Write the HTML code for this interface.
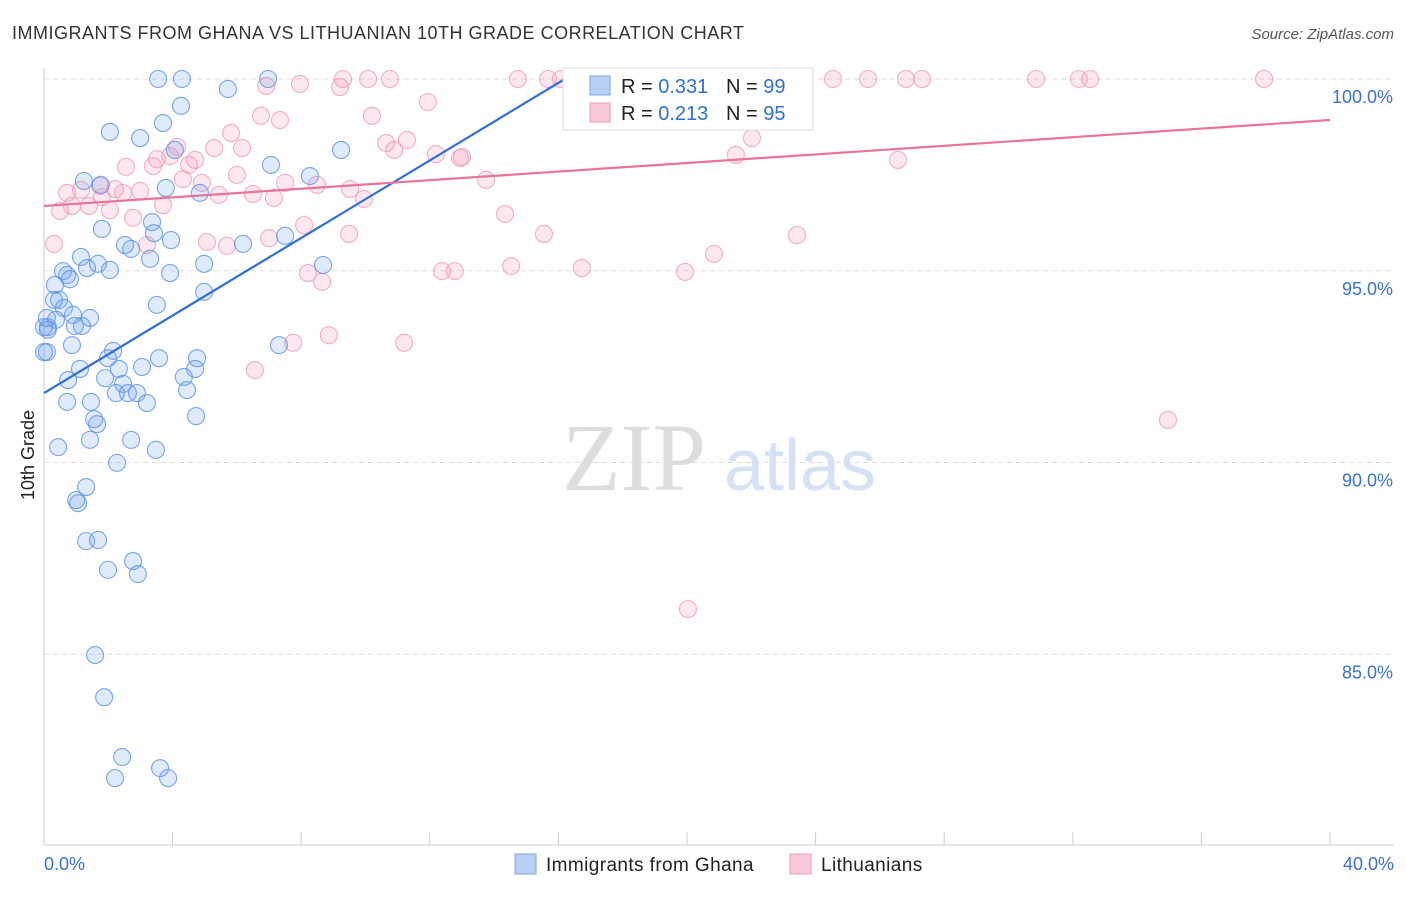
<!DOCTYPE html>
<html><head><meta charset="utf-8"><style>
body{margin:0;background:#fff;font-family:"Liberation Sans",sans-serif;}
svg text{font-family:"Liberation Sans",sans-serif;}
</style></head><body>
<svg id="chart" width="1406" height="892" xmlns="http://www.w3.org/2000/svg">
<text x="12" y="39" font-size="18" fill="#333" letter-spacing="0.5">IMMIGRANTS FROM GHANA VS LITHUANIAN 10TH GRADE CORRELATION CHART</text>
<text x="1394" y="39" font-size="15" fill="#555" text-anchor="end" font-style="italic">Source: ZipAtlas.com</text>
<text transform="translate(34,455) rotate(-90)" font-size="18" fill="#222" text-anchor="middle">10th Grade</text>
<g>
<text x="634" y="490" font-size="96" fill="#ddd" text-anchor="middle" font-family="Liberation Serif" style="font-family:'Liberation Serif',serif">ZIP</text>
<text x="800" y="490" font-size="72" fill="#d5e2f5" text-anchor="middle">atlas</text>
</g>
<g id="grid"></g><g id="axes"></g><g id="pts"></g><g id="lines"></g>
<g>
<rect x="563" y="68" width="250" height="62" fill="#fff" stroke="#ddd"/>
<rect x="590" y="76" width="20" height="19" fill="#b7d0f3" stroke="#7ea6e4"/>
<rect x="590" y="103" width="20" height="19" fill="#fac9d8" stroke="#ef9bb6"/>
<text x="621" y="93" font-size="20" fill="#222">R = <tspan fill="#2f6fd6">0.331</tspan></text>
<text x="726" y="93" font-size="20" fill="#222">N = <tspan fill="#2f6fd6">99</tspan></text>
<text x="621" y="120" font-size="20" fill="#222">R = <tspan fill="#2f6fd6">0.213</tspan></text>
<text x="726" y="120" font-size="20" fill="#222">N = <tspan fill="#2f6fd6">95</tspan></text>
</g>
<g>
<rect x="515" y="854" width="21" height="20" fill="#b7d0f3" stroke="#7ea6e4"/>
<text x="546" y="871" font-size="19" fill="#222" letter-spacing="0.4">Immigrants from Ghana</text>
<rect x="790" y="854" width="21" height="20" fill="#fac9d8" stroke="#ef9bb6"/>
<text x="821" y="871" font-size="19" fill="#222" letter-spacing="0.4">Lithuanians</text>
</g>
</svg>
<script>
const yTicks=[100,95,90,85];
const yTickLabels=["100.0%","95.0%","90.0%","85.0%"];
const xTickCount=10;
const xLabels=["0.0%","40.0%"];
const ghanaTrend=[[0,91.81],[16.2,100.0]];
const lithTrend=[[0,96.69],[40,98.93]];
const ghanaPoints=[[3.55,100],[4.29,100],[6.97,100],[5.72,99.74],[4.26,99.3],[3.7,98.85],[2.05,98.62],[2.99,98.46],[4.07,98.15],[9.24,98.15],[7.06,97.76],[3.79,97.16],[1.24,97.34],[1.77,97.24],[8.27,97.47],[4.85,97.03],[1.8,96.09],[3.36,96.27],[3.42,95.98],[3.95,95.8],[2.52,95.67],[2.71,95.57],[6.19,95.7],[7.5,95.91],[1.15,95.36],[3.3,95.31],[4.98,95.18],[0.59,94.99],[0.72,94.89],[1.34,95.07],[2.05,95.02],[1.68,95.18],[3.92,94.94],[8.68,95.15],[0.81,94.78],[0.34,94.63],[4.98,94.45],[0.47,94.24],[0.62,94.03],[3.51,94.11],[0.9,93.85],[1.43,93.77],[0.37,93.72],[0.12,93.53],[1.18,93.56],[0.96,93.56],[0.12,93.46],[0.87,93.06],[2.15,92.91],[1.99,92.72],[3.58,92.72],[4.76,92.72],[7.31,93.06],[0.09,92.88],[1.12,92.44],[2.33,92.44],[3.05,92.49],[4.7,92.44],[1.9,92.2],[0.75,92.15],[2.46,92.05],[4.35,92.23],[2.24,91.81],[2.61,91.81],[2.89,91.81],[4.45,91.89],[0.72,91.58],[1.46,91.58],[3.2,91.55],[1.56,91.13],[4.73,91.21],[1.65,91.0],[2.71,90.59],[1.43,90.59],[0.44,90.4],[3.48,90.33],[2.27,89.99],[1.31,89.36],[1.0,89.02],[1.06,88.94],[1.31,87.95],[1.68,87.98],[1.99,87.2],[2.77,87.43],[2.92,87.09],[1.59,84.98],[1.87,83.88],[2.43,82.32],[3.61,82.03],[2.21,81.77],[3.86,81.77],[0,92.88],[0,93.53],[0.31,94.24],[0.09,93.77]];
const lithPoints=[[7.96,99.87],[9.21,99.79],[9.3,100],[10.08,100],[10.76,100],[14.74,100],[15.68,100],[16.08,100],[17.92,100],[19.16,100],[20.09,100],[23.64,100],[24.54,100],[25.63,100],[26.81,100],[27.31,100],[30.86,100],[32.19,100],[32.54,100],[37.95,100],[6.91,99.82],[11.94,99.4],[6.75,99.04],[7.34,98.93],[10.2,99.04],[5.82,98.59],[11.29,98.41],[10.64,98.33],[10.89,98.15],[22.02,98.46],[4.14,98.23],[5.29,98.2],[6.16,98.2],[12.19,98.04],[13.0,97.97],[12.94,97.94],[3.51,97.91],[3.92,97.99],[4.7,97.89],[4.51,97.76],[26.56,97.89],[21.52,98.02],[2.55,97.71],[3.39,97.73],[6.0,97.5],[4.32,97.39],[7.5,97.29],[8.49,97.24],[9.52,97.13],[13.75,97.37],[1.74,97.21],[0.72,97.03],[1.15,97.11],[2.21,97.13],[2.99,97.08],[4.91,97.29],[2.46,97.03],[1.8,96.92],[3.7,96.71],[5.44,96.98],[6.5,97.0],[7.15,96.9],[9.95,96.87],[0.87,96.69],[1.4,96.69],[0.5,96.56],[2.05,96.58],[14.34,96.48],[2.77,96.38],[8.09,96.19],[3.2,95.67],[5.07,95.75],[5.69,95.65],[7.0,95.85],[9.49,95.96],[15.55,95.96],[23.42,95.93],[0.31,95.7],[12.38,94.99],[12.78,94.99],[14.53,95.12],[16.73,95.07],[19.94,94.97],[20.84,95.44],[8.21,94.94],[8.65,94.71],[7.75,93.12],[8.86,93.32],[11.2,93.12],[6.56,92.41],[34.96,91.11],[20.03,86.18]];
const NS="http://www.w3.org/2000/svg";
const X0=44,X1=1330,Y100=79,PXPER=38.35;
function xs(v){return X0+(v/40)*(X1-X0);}
function ys(v){return Y100+(100-v)*PXPER;}
function mk(tag,attrs,parent){const e=document.createElementNS(NS,tag);for(const k in attrs)e.setAttribute(k,attrs[k]);parent.appendChild(e);return e;}
const grid=document.getElementById('grid'),axes=document.getElementById('axes'),pts=document.getElementById('pts'),lines=document.getElementById('lines');
yTicks.forEach((t,i)=>{
 const l=mk('line',{x1:X0,x2:1394,y1:ys(t),y2:ys(t),stroke:'#ddd','stroke-dasharray':'5,4'},grid);
 
 
 const tx=mk('text',{x:1393,y:ys(t)+24,'font-size':18,fill:'#3a72d0','text-anchor':'end'},axes);
 tx.textContent=yTickLabels[i];
 
 
});
const ax=mk('line',{x1:X0,x2:X0,y1:68,y2:845,stroke:'#ccc'},axes);


const bx=mk('line',{x1:X0,x2:1394,y1:845,y2:845,stroke:'#ccc'},axes);


for(let i=0;i<=xTickCount;i++){
 const t=mk('line',{x1:xs(i*4),x2:xs(i*4),y1:832,y2:845,stroke:'#ccc'},axes);
 
 
}
[[0,'start',44],[40,'end',1394]].forEach((a,i)=>{
 const t=mk('text',{x:a[2],y:870,'font-size':18,fill:'#3a72d0','text-anchor':a[1]},axes);
 t.textContent=xLabels[i];
 
 
});
lithPoints.forEach(p=>{
 const c=mk('circle',{cx:xs(p[0]),cy:ys(p[1]),r:8.5,fill:'rgba(244,150,180,0.22)',stroke:'rgba(238,150,180,0.75)','stroke-width':1.1},pts);
 
 
});
ghanaPoints.forEach(p=>{
 const c=mk('circle',{cx:xs(p[0]),cy:ys(p[1]),r:8.5,fill:'rgba(110,160,235,0.22)',stroke:'rgba(90,145,225,0.8)','stroke-width':1.1},pts);
 
 
});
const bl=mk('line',{x1:xs(ghanaTrend[0][0]),y1:ys(ghanaTrend[0][1]),x2:xs(ghanaTrend[1][0]),y2:ys(ghanaTrend[1][1]),stroke:'#2f6fd6','stroke-width':2.2},lines);


const pl=mk('line',{x1:xs(lithTrend[0][0]),y1:ys(lithTrend[0][1]),x2:xs(lithTrend[1][0]),y2:ys(lithTrend[1][1]),stroke:'#e8739b','stroke-width':2.2},lines);


</script>
</body></html>
